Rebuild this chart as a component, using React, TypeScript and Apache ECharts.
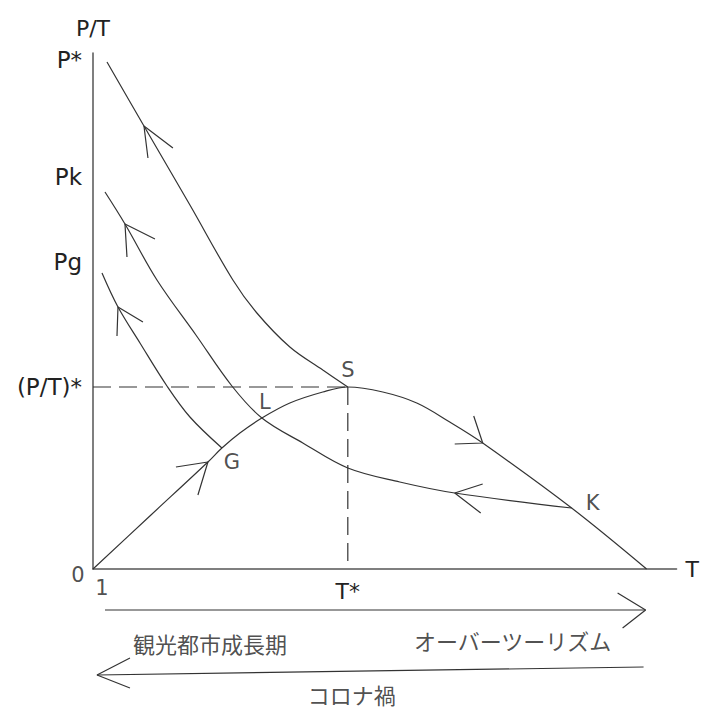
import React, { useEffect, useRef } from "react";
import * as echarts from "echarts";

// Axis ranges (T horizontally, P/T vertically), arbitrary diagram units
const T_MAX = 584;
const PT_MAX = 516;

const yTickValues = [509, 392, 307, 182];
const yTickLabels = ["P*", "Pk", "Pg", "(P/T)*"];
const xTickValues = [255];
const xTickLabels = ["T*"];

// Hump curve: 0 → G → L → S → K → T end
const humpCurve = [
  [0, 0], [58, 54], [115, 107], [129, 121], [147, 136], [169, 151], [197, 166],
  [230, 177], [255, 182], [290, 177], [324, 166], [357, 147], [390, 126],
  [479, 61], [554, 0],
];
// Path K → L → Pk
const pkCurve = [
  [12, 377], [32, 345], [64, 289], [103, 234], [139, 183], [169, 151],
  [210, 126], [255, 101], [307, 87], [362, 76], [479, 61],
];
// Path G → Pg
const pgCurve = [[9, 296], [25, 262], [47, 226], [74, 183], [97, 152], [129, 121]];
// Path S → P*
const pStarCurve = [
  [14, 507], [51, 443], [97, 364], [140, 289], [164, 256], [197, 222], [230, 199], [255, 182],
];

const guideH = [[0, 182], [255, 182]];
const guideV = [[255, 182], [255, 0]];

// Arrow heads: wing, tip, wing
const arrowHeads = [
  [[55, 411], [51, 443], [80, 421]],
  [[34, 312], [32, 345], [62, 330]],
  [[24, 233], [25, 262], [50, 247]],
  [[83, 102], [115, 107], [105, 74]],
  [[362, 125], [390, 126], [381, 153]],
  [[390, 85], [362, 76], [388, 56]],
];

// Phase arrows below the axis
const phaseLines = [
  [[12, -41], [553, -41]],
  [[525, -24], [553, -41], [530, -59]],
  [[551, -98], [4, -106]],
  [[37, -89], [4, -106], [37, -119]],
];

const pointLabels: [string, number, number][] = [
  ["S", 255, 199], ["L", 172, 167], ["G", 139, 107], ["K", 500, 66],
  ["0", -15, -6], ["1", 9, -19],
];
const phaseLabels: [string, number, number][] = [
  ["観光都市成長期", 117, -74],
  ["オーバーツーリズム", 420, -71],
  ["コロナ禍", 259, -125],
];

const LATIN = "DejaVu Sans";
const CJK = "Noto Sans CJK JP";
const INK = "#333";
const TEXT = "#222";

export default function App() {
  const ref = useRef<HTMLDivElement>(null);
  useEffect(() => {
    if (!ref.current) return;
    const chart = echarts.init(ref.current, null, { renderer: "svg" });
    const curveStyle = { color: INK, width: 1.2 };
    const curve = (data: number[][]) => ({
      type: "line", data, smooth: 0.35, symbol: "none", clip: false,
      lineStyle: curveStyle, silent: true,
    });
    const straight = (data: number[][], extra: any = {}) => ({
      type: "line", data, smooth: false, symbol: "none", clip: false,
      lineStyle: { ...curveStyle, ...extra }, silent: true,
    });
    const series: any[] = [
      curve(humpCurve), curve(pkCurve), curve(pgCurve), curve(pStarCurve),
      straight(guideH, { type: [18, 8], width: 1.2 }),
      straight(guideV, { type: [18, 8], width: 1.2 }),
      ...arrowHeads.map((a) => straight(a)),
      ...phaseLines.map((a) => straight(a)),
      {
        type: "scatter", clip: false, symbolSize: 1, silent: true,
        itemStyle: { color: "transparent" },
        data: [
          ...pointLabels.map(([t, x, y]) => ({
            value: [x, y], name: t,
            label: { fontFamily: LATIN, fontSize: 21, lineHeight: 22 },
          })),
          ...phaseLabels.map(([t, x, y]) => ({
            value: [x, y], name: t,
            label: { fontFamily: CJK, fontSize: 22, lineHeight: 20 },
          })),
        ],
        label: {
          show: true, position: "inside", formatter: (p: any) => p.name,
          color: TEXT, align: "center", verticalAlign: "middle",
        },
      },
    ];
    chart.setOption({
      animation: false,
      textStyle: { fontFamily: LATIN },
      grid: { left: 93, top: 53, width: 584, height: 516 },
      xAxis: {
        type: "value", min: 0, max: T_MAX,
        name: "T", nameLocation: "end", nameGap: 9,
        nameTextStyle: { fontSize: 22, color: TEXT, fontFamily: LATIN, verticalAlign: "middle" },
        axisLine: { show: true, lineStyle: { color: "#555", width: 1.5 } },
        axisTick: { show: false },
        splitLine: { show: false },
        axisLabel: {
          customValues: xTickValues,
          formatter: (v: number) => xTickLabels[xTickValues.indexOf(v)] ?? "",
          fontSize: 22, color: TEXT, margin: 11, fontFamily: LATIN,
        },
      },
      yAxis: {
        type: "value", min: 0, max: PT_MAX,
        name: "P/T", nameLocation: "end", nameGap: 14,
        nameTextStyle: { fontSize: 22, color: TEXT, fontFamily: LATIN, align: "center" },
        axisLine: { show: true, lineStyle: { color: "#555", width: 1.5 } },
        axisTick: { show: false },
        splitLine: { show: false },
        axisLabel: {
          customValues: yTickValues,
          formatter: (v: number) => yTickLabels[yTickValues.indexOf(v)] ?? "",
          fontSize: 23, color: TEXT, margin: 11, fontFamily: LATIN,
        },
      },
      series,
    });
    return () => chart.dispose();
  }, []);
  return (
    <div
      ref={ref}
      style={{ position: "fixed", left: 0, top: 0, width: 702, height: 710, background: "#fff" }}
    />
  );
}
